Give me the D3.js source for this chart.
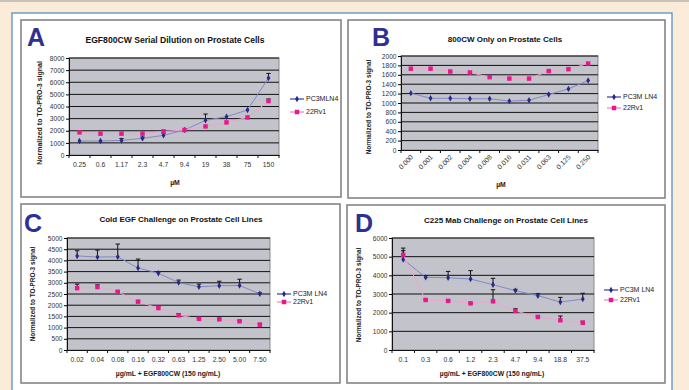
<!DOCTYPE html>
<html>
<head>
<meta charset="utf-8">
<script src="https://cdn.jsdelivr.net/npm/d3@7"></script>
<style>
  html, body { margin: 0; padding: 0; background: #fbebd9; }
  svg { display: block; font-family: "Liberation Sans", Arial, sans-serif; }
</style>
</head>
<body>
<svg id="fig" width="689" height="390"></svg>
<script>
// ---- data ----
const doseA = ["0.25", "0.6", "1.17", "2.3", "4.7", "9.4", "19", "38", "75", "150"];
const pc3A = [1150, 1150, 1200, 1370, 1620, 2060, 2860, 3160, 3710, 6350];
const pc3ErrA = [0, 0, 150, 110, 190, 0, 520, 0, 0, 380];
const rv1A = [1870, 1760, 1760, 1760, 1950, 2060, 2360, 2690, 3100, 4450];
const rv1ErrA = [0, 0, 0, 0, 0, 0, 0, 0, 0, 170];

const doseB = ["0.000", "0.001", "0.002", "0.004", "0.008", "0.016", "0.031", "0.063", "0.125", "0.250"];
const pc3B = [1210, 1100, 1100, 1090, 1090, 1040, 1060, 1180, 1300, 1480];
const rv1B = [1730, 1730, 1670, 1650, 1550, 1520, 1520, 1680, 1720, 1840];

const doseC = ["0.02", "0.04", "0.08", "0.16", "0.32", "0.63", "1.25", "2.50", "5.00", "7.50"];
const pc3C = [4200, 4150, 4160, 3660, 3430, 3010, 2820, 2870, 2880, 2510];
const pc3ErrC = [230, 310, 570, 400, 50, 110, 120, 200, 280, 40];
const rv1C = [2760, 2810, 2600, 2160, 1870, 1550, 1390, 1370, 1280, 1130];
const rv1ErrC = [180, 100, 30, 30, 60, 80, 40, 40, 50, 60];

const doseD = ["0.1", "0.3", "0.6", "1.2", "2.3", "4.7", "9.4", "18.8", "37.5"];
const pc3D = [4850, 3890, 3875, 3800, 3500, 3180, 2910, 2570, 2730];
const pc3ErrD = [610, 90, 335, 450, 340, 70, 110, 250, 310];
const rv1D = [5090, 2680, 2630, 2500, 2610, 2090, 1770, 1590, 1460];
const rv1ErrD = [230, 30, 30, 30, 620, 120, 50, 230, 80];

const ticksA = d3.range(0, 8001, 1000);
const ticksB = d3.range(0, 2001, 200);
const ticksC = d3.range(0, 5001, 500);
const ticksD = d3.range(0, 6001, 1000);

const yTitle = "Normalized to TO-PRO-3 signal";

const svg = d3.select("#fig");

// page background pieces
svg.append("rect").attr("x", 0).attr("y", 0).attr("width", 689).attr("height", 2).attr("fill", "#c9c2ba");
svg.append("rect").attr("x", 12).attr("y", 13).attr("width", 660).attr("height", 400)
  .attr("fill", "#fff").attr("stroke", "#4a86c5").attr("stroke-width", 1.2);

const panels = [
  { letter: "A", box: [21, 20, 320, 177], letterXY: [27, 46], title: "EGF800CW Serial Dilution on Prostate Cells",
    titleXY: [175, 40], titleSize: 8.6, plot: [69, 58, 279, 155], cats: doseA, ticks: ticksA,
    pc3: pc3A, pc3Err: pc3ErrA, rv1: rv1A, rv1Err: rv1ErrA, xTitle: "µM", xTitleXY: [175, 182],
    yTitleXY: [40, 113], yTitleSize: 7, legend: [290, 99, 112], pcName: "PC3MLN4" },
  { letter: "B", box: [348, 20, 317, 178], letterXY: [372, 46], title: "800CW Only on Prostate Cells",
    titleXY: [505, 39], titleSize: 8, plot: [401, 56, 598, 150], cats: doseB, ticks: ticksB,
    pc3: pc3B, pc3Err: null, rv1: rv1B, rv1Err: null, xTitle: "µM", xTitleXY: [501, 184],
    yTitleXY: [369, 107], yTitleSize: 6.4, legend: [607, 97, 108], pcName: "PC3M LN4", rotate: true },
  { letter: "C", box: [21, 204, 319, 179], letterXY: [24, 232], title: "Cold EGF Challenge on Prostate Cell Lines",
    titleXY: [181, 219], titleSize: 8, plot: [67, 238, 270, 350], cats: doseC, ticks: ticksC,
    pc3: pc3C, pc3Err: pc3ErrC, rv1: rv1C, rv1Err: rv1ErrC, xTitle: "µg/mL + EGF800CW (150 ng/mL)", xTitleXY: [168, 373],
    yTitleXY: [33, 294], yTitleSize: 6.4, legend: [277, 294, 302], pcName: "PC3M LN4" },
  { letter: "D", box: [347, 205, 318, 178], letterXY: [355, 232], title: "C225 Mab Challenge on Prostate Cell Lines",
    titleXY: [506, 220], titleSize: 8, plot: [392, 238, 594, 350], cats: doseD, ticks: ticksD,
    pc3: pc3D, pc3Err: pc3ErrD, rv1: rv1D, rv1Err: rv1ErrD, xTitle: "µg/mL + EGF800CW (150 ng/mL)", xTitleXY: [492, 373],
    yTitleXY: [359, 295], yTitleSize: 6.4, legend: [604, 290, 300], pcName: "PC3M LN4" }
];

const navy = "#26288a", navyLine = "#8487c6";
const pink = "#e8188c", pinkLine = "#f3a2cf";

panels.forEach(p => {
  const g = svg.append("g");
  const [bx, by, bw, bh] = p.box;
  g.append("rect").attr("x", bx).attr("y", by).attr("width", bw).attr("height", bh)
    .attr("fill", "#fff").attr("stroke", "#858585").attr("stroke-width", 1.6);

  g.append("text").attr("x", p.letterXY[0]).attr("y", p.letterXY[1])
    .attr("font-size", 25).attr("font-weight", "bold").attr("fill", "#2e3192").text(p.letter);

  g.append("text").attr("x", p.titleXY[0]).attr("y", p.titleXY[1] + 3)
    .attr("text-anchor", "middle").attr("font-size", p.titleSize).attr("font-weight", "bold")
    .attr("fill", "#111").text(p.title);

  const [x0, y0, x1, y1] = p.plot;
  const x = d3.scaleBand().domain(p.cats).range([x0, x1]);
  const y = d3.scaleLinear().domain([0, d3.max(p.ticks)]).range([y1, y0]);
  const cx = d => x(d) + x.bandwidth() / 2;

  // plot area + gridlines
  g.append("rect").attr("x", x0).attr("y", y0).attr("width", x1 - x0).attr("height", y1 - y0)
    .attr("fill", "#c3c3cb").attr("stroke", "#8a8a8a").attr("stroke-width", 1);
  g.selectAll(".grid").data(p.ticks.slice(1)).enter().append("line")
    .attr("x1", x0).attr("x2", x1).attr("y1", d => y(d)).attr("y2", d => y(d))
    .attr("stroke", "#111").attr("stroke-width", 1);

  // y axis
  const ya = g.append("g").attr("transform", `translate(${x0},0)`)
    .call(d3.axisLeft(y).tickValues(p.ticks).tickSize(3).tickPadding(1.5).tickFormat(d3.format("d")));
  ya.select(".domain").attr("stroke", "#111");
  ya.selectAll("text").attr("font-size", 6.6).attr("fill", "#333").attr("font-family", "Liberation Sans, Arial");

  // x axis, labels at band centres, ticks at band edges
  const xa = g.append("g").attr("transform", `translate(0,${y1})`)
    .call(d3.axisBottom(x).tickSize(0).tickPadding(7));
  xa.select(".domain").attr("stroke", "#111");
  xa.selectAll("text").attr("font-size", 6.8).attr("fill", "#333").attr("font-family", "Liberation Sans, Arial");
  if (p.rotate) {
    xa.selectAll("text").attr("text-anchor", "end").attr("dy", "0.35em")
      .attr("transform", "translate(1,6) rotate(-45)").attr("y", 0).attr("x", 0);
  }
  const edges = p.cats.map(d => x(d)).concat([x1]);
  g.selectAll(".xt").data(edges).enter().append("line")
    .attr("x1", d => d).attr("x2", d => d).attr("y1", y1).attr("y2", y1 + 3)
    .attr("stroke", "#111");

  g.append("text").attr("x", p.xTitleXY[0]).attr("y", p.xTitleXY[1] + 2.5)
    .attr("text-anchor", "middle").attr("font-size", 6.8).attr("font-weight", "bold")
    .attr("fill", "#1a1a1a").text(p.xTitle);

  g.append("text").attr("transform", `translate(${p.yTitleXY[0]},${p.yTitleXY[1]}) rotate(-90)`)
    .attr("text-anchor", "middle").attr("dy", "0.35em").attr("font-size", p.yTitleSize)
    .attr("font-weight", "bold").attr("fill", "#222").text(yTitle);

  const line = d3.line().x(d => cx(d.c)).y(d => y(d.v));
  const series = [
    { vals: p.pc3, err: p.pc3Err, col: navy, lc: navyLine, sym: d3.symbolDiamond, size: 12 },
    { vals: p.rv1, err: p.rv1Err, col: pink, lc: pinkLine, sym: d3.symbolSquare, size: 20 }
  ];
  series.forEach(s => {
    const pts = p.cats.map((c, i) => ({ c, v: s.vals[i], e: s.err ? s.err[i] : 0 }));
    g.append("path").datum(pts).attr("d", line).attr("fill", "none")
      .attr("stroke", s.lc).attr("stroke-width", 1);
    // error bars (upper only)
    const eb = pts.filter(d => d.e > 0);
    g.selectAll(null).data(eb).enter().append("path")
      .attr("d", d => `M${cx(d.c)},${y(d.v)}V${y(d.v + d.e)}M${cx(d.c) - 2.2},${y(d.v + d.e)}H${cx(d.c) + 2.2}`)
      .attr("stroke", "#111").attr("stroke-width", 1).attr("fill", "none");
    g.selectAll(null).data(pts).enter().append("path")
      .attr("d", d3.symbol().type(s.sym).size(s.size))
      .attr("transform", d => `translate(${cx(d.c)},${y(d.v)})`)
      .attr("fill", s.col);
  });

  // legend
  const [lx, ly1, ly2] = p.legend;
  [[ly1, navy, d3.symbolDiamond, 12, p.pcName], [ly2, pink, d3.symbolSquare, 20, "22Rv1"]].forEach(([ly, c, sym, sz, name]) => {
    g.append("line").attr("x1", lx).attr("x2", lx + 14).attr("y1", ly).attr("y2", ly)
      .attr("stroke", c === navy ? "#3a3d9a" : "#f07fbf").attr("stroke-width", 1.2);
    g.append("path").attr("d", d3.symbol().type(sym).size(sz)()).attr("transform", `translate(${lx + 7},${ly})`).attr("fill", c);
    g.append("text").attr("x", lx + 16).attr("y", ly).attr("dy", "0.35em")
      .attr("font-size", 7).attr("fill", "#222").text(name);
  });
});
</script>
</body>
</html>
